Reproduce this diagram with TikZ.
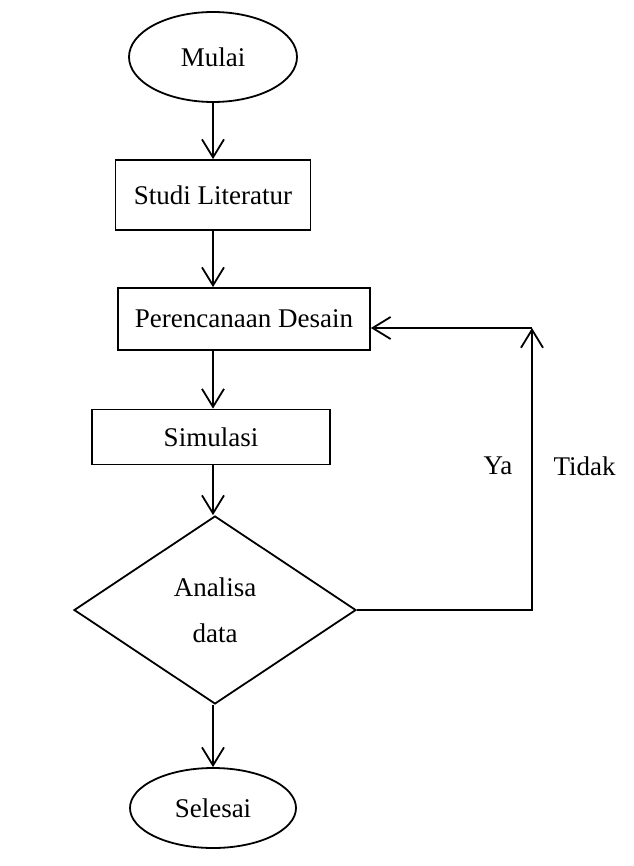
\documentclass[tikz,border=0pt]{standalone}
\usepackage{fontspec}
\setmainfont{Liberation Serif}
\usetikzlibrary{shapes.geometric, arrows.meta, positioning}

\begin{document}
\begin{tikzpicture}[x=1pt, y=-1pt,
    every node/.style={font=\fontsize{27}{46}\selectfont},
    terminal/.style={draw, ellipse, line width=1.8pt, inner sep=0pt},
    process/.style={draw, rectangle, line width=1.8pt, inner sep=0pt},
    decision/.style={draw, diamond, line width=1.8pt, inner sep=0pt, align=center},
    flow/.style={line width=1.8pt, -{Straight Barb[length=18pt, width=22pt, line width=1.8pt]}}]
    \useasboundingbox (0,0) rectangle (633,866);

    \node[terminal, minimum width=168pt, minimum height=90pt] (mulai) at (213,57) {Mulai};
    \node[process, minimum width=195pt, minimum height=70pt] (studi) at (213,195) {Studi Literatur};
    \node[process, minimum width=252pt, minimum height=62pt] (desain) at (244,319) {Perencanaan Desain};
    \node[process, minimum width=238pt, minimum height=55pt] (simulasi) at (211,437) {Simulasi};
    \node[decision, minimum width=282pt, minimum height=188pt] (analisa) at (215,610) {Analisa\\data};
    \node[terminal, minimum width=166pt, minimum height=80pt] (selesai) at (213,808) {Selesai};

    % jalur utama
    \draw[flow] (mulai.south) -- (mulai.south |- studi.north);
    \draw[flow] (studi.south) -- (studi.south |- desain.north);
    \draw[flow] (studi.south |- desain.south) -- (studi.south |- simulasi.north);
    \draw[flow] (studi.south |- simulasi.south) -- (studi.south |- analisa.north);
    \draw[flow] (studi.south |- analisa.south) -- (studi.south |- selesai.north);

    % umpan balik
    \coordinate (balik) at (532,328);
    \draw[flow] (analisa.east) -| (balik);
    \draw[flow] (balik) -- (desain.east |- balik);

    \node[anchor=east] (ya) at (516,466) {Ya};
    \node[anchor=west] (tidak) at (550,466) {Tidak};
\end{tikzpicture}
\end{document}
